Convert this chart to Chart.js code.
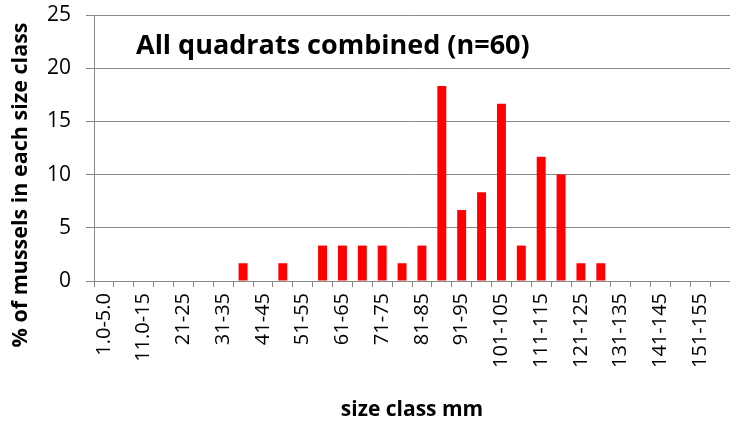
<!DOCTYPE html>
<html>
<head>
<meta charset="utf-8">
<script src="https://cdn.jsdelivr.net/npm/chart.js@4/dist/chart.umd.min.js"></script>
<style>
html,body{margin:0;padding:0;background:#fff;overflow:hidden;}
#wrap{width:730px;height:423px;position:relative;}
</style>
</head>
<body>
<div id="wrap"><canvas id="c" width="730" height="423"></canvas></div>
<script>
const categories = ["1.0-5.0","6.0-10","11.0-15","16-20","21-25","26-30","31-35","36-40","41-45","46-50",
  "51-55","56-60","61-65","66-70","71-75","76-80","81-85","86-90","91-95","96-100",
  "101-105","106-110","111-115","116-120","121-125","126-130","131-135","136-140","141-145","146-150",
  "151-155","156-160"];
const percentValues = [0,0,0,0,0,0,0,1.67,0,1.67,
  0,3.33,3.33,3.33,3.33,1.67,3.33,18.33,6.67,8.33,
  16.67,3.33,11.67,10,1.67,1.67,0,0,0,0,
  0,0];
const yTicks = [0,5,10,15,20,25];
const chartTitle = "All quadrats combined (n=60)";
const yTitle = "% of mussels in each size class";
const xTitle = "size class mm";

const FONT = "'Open Sans', 'Noto Sans', sans-serif";
const GRID = '#878787';

const textPlugin = {
  id: 'textPlugin',
  afterDraw(chart) {
    const ctx = chart.ctx;
    ctx.save();
    ctx.fillStyle = '#000';
    ctx.font = "bold 27px " + FONT;
    ctx.textAlign = 'left';
    ctx.textBaseline = 'middle';
    ctx.fillText(chartTitle, 136, 46);
    ctx.translate(21, 185);
    ctx.rotate(-Math.PI/2);
    ctx.textAlign = 'center';
    ctx.font = "bold 21.5px " + FONT;
    ctx.fillText(yTitle, 0, 0);
    ctx.restore();
  }
};

new Chart(document.getElementById('c'), {
  type: 'bar',
  data: {
    labels: categories,
    datasets: [{
      data: percentValues,
      backgroundColor: '#ff0000',
      borderWidth: 0,
      barPercentage: 0.45,
      categoryPercentage: 1.0
    }]
  },
  options: {
    responsive: false,
    animation: false,
    devicePixelRatio: 1,
    layout: { padding: { top: 15, right: -7, left: 0, bottom: 0 } },
    plugins: { legend: { display: false }, tooltip: { enabled: false }, title: { display: false } },
    scales: {
      x: {
        grid: { display: true, drawOnChartArea: false, drawTicks: true, tickLength: 6, color: GRID, offset: true },
        border: { display: true, color: GRID, width: 1 },
        ticks: {
          autoSkip: false,
          maxRotation: 90, minRotation: 90,
          color: '#000',
          padding: 6,
          font: { family: FONT, size: 20 },
          callback: function(v, i) { return i % 2 === 0 ? categories[i] : ''; }
        },
        title: { display: true, text: xTitle, color: '#000', font: { family: FONT, size: 21, weight: 'bold' }, padding: { top: 0, bottom: 0 } },
        afterFit: function(s) { s.height = 142; s.paddingLeft = 0; s.paddingRight = 0; }
      },
      y: {
        min: 0, max: 25,
        afterBuildTicks: function(s) { s.ticks = yTicks.map(v => ({ value: v })); },
        grid: { color: GRID, tickLength: 8, drawTicks: true },
        border: { display: true, color: GRID, width: 1 },
        ticks: { color: '#000', padding: 15, font: { family: FONT, size: 21 } },
        afterFit: function(s) { s.width = 94; s.paddingTop = 0; s.paddingBottom = 0; }
      }
    }
  },
  plugins: [textPlugin]
});
</script>
</body>
</html>
